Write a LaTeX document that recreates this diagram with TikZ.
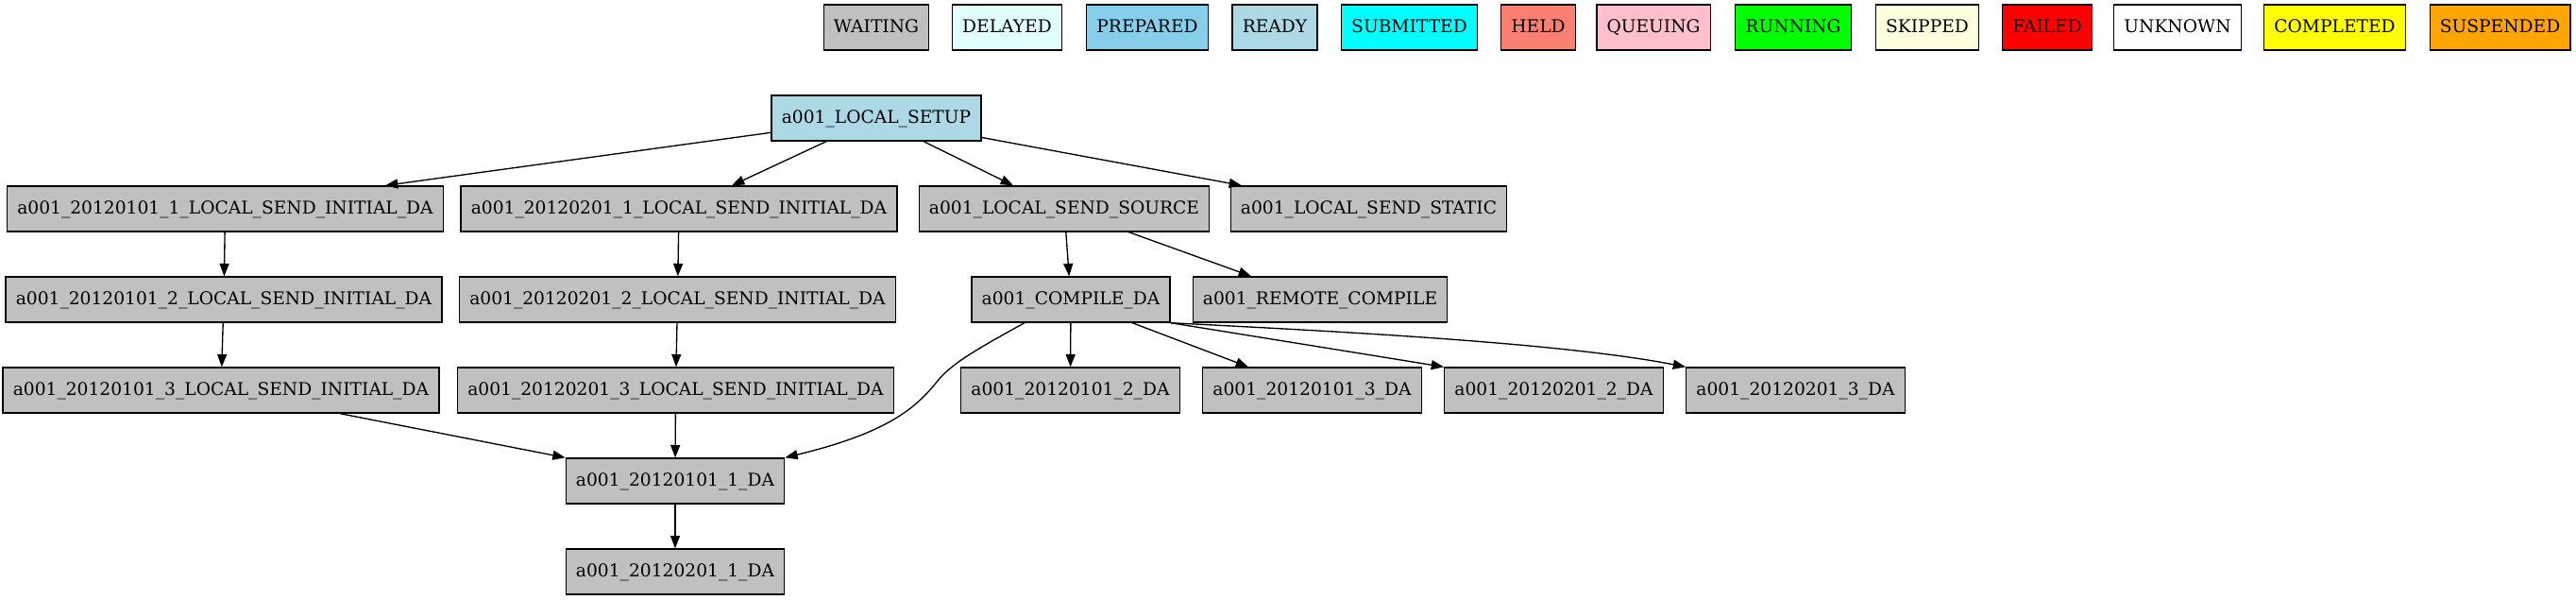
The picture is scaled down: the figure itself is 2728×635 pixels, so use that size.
\documentclass[tikz,border=0pt]{standalone}
\usepackage{fontspec}
\setmainfont{DejaVu Serif}
\usetikzlibrary{arrows.meta}
\definecolor{cwait}{HTML}{C0C0C0}
\definecolor{cdelay}{HTML}{E0FFFF}
\definecolor{cprep}{HTML}{87CEEB}
\definecolor{cready}{HTML}{ADD8E6}
\definecolor{csub}{HTML}{00FFFF}
\definecolor{cheld}{HTML}{FA8072}
\definecolor{cqueue}{HTML}{FFC0CB}
\definecolor{crun}{HTML}{00FF00}
\definecolor{cskip}{HTML}{FFFFE0}
\definecolor{cfail}{HTML}{FF0000}
\definecolor{cunk}{HTML}{FFFFFF}
\definecolor{ccomp}{HTML}{FFFF00}
\definecolor{csusp}{HTML}{FFA500}
\tikzset{
  gbox/.style={draw=black, line width=1pt, fill=cwait, minimum height=36pt,
    minimum width=54pt, inner xsep=8pt, inner ysep=0pt, text height=8.6pt,
    text depth=0pt, font=\fontsize{14}{16}\selectfont},
  gedge/.style={draw=black, line width=1pt, -{Triangle[length=10pt,width=7.5pt]}}
}
\begin{document}
\begin{tikzpicture}[x=0.75pt,y=-0.75pt]
\useasboundingbox (0,0) rectangle (2728,635);
% legend
\node[gbox,fill=cwait]  (lwait)  at (928,29)    {WAITING};
\node[gbox,fill=cdelay] (ldelay) at (1066.5,29) {DELAYED};
\node[gbox,fill=cprep]  (lprep)  at (1215,29)   {PREPARED};
\node[gbox,fill=cready] (lready) at (1350,29)   {READY};
\node[gbox,fill=csub]   (lsub)   at (1492.5,29) {SUBMITTED};
\node[gbox,fill=cheld]  (lheld)  at (1629,29)   {HELD};
\node[gbox,fill=cqueue] (lqueue) at (1751,29)   {QUEUING};
\node[gbox,fill=crun]   (lrun)   at (1899,29)   {RUNNING};
\node[gbox,fill=cskip]  (lskip)  at (2041,29)   {SKIPPED};
\node[gbox,fill=cfail]  (lfail)  at (2168,29)   {FAILED};
\node[gbox,fill=cunk]   (lunk)   at (2306,29)   {UNKNOWN};
\node[gbox,fill=ccomp]  (lcomp)  at (2472.5,29) {COMPLETED};
\node[gbox,fill=csusp]  (lsusp)  at (2647.5,29) {SUSPENDED};
% graph nodes
\node[gbox,fill=cready] (setup) at (928,125) {a001\_LOCAL\_SETUP};
\node[gbox] (t11) at (238.5,221) {a001\_20120101\_1\_LOCAL\_SEND\_INITIAL\_DA};
\node[gbox] (t21) at (719,221) {a001\_20120201\_1\_LOCAL\_SEND\_INITIAL\_DA};
\node[gbox] (src) at (1127,221) {a001\_LOCAL\_SEND\_SOURCE};
\node[gbox] (static) at (1449.5,221) {a001\_LOCAL\_SEND\_STATIC};
\node[gbox] (t12) at (237,317) {a001\_20120101\_2\_LOCAL\_SEND\_INITIAL\_DA};
\node[gbox] (t22) at (717.5,317) {a001\_20120201\_2\_LOCAL\_SEND\_INITIAL\_DA};
\node[gbox] (comp) at (1134,317) {a001\_COMPILE\_DA};
\node[gbox] (remote) at (1398,317) {a001\_REMOTE\_COMPILE};
\node[gbox] (t13) at (234,413) {a001\_20120101\_3\_LOCAL\_SEND\_INITIAL\_DA};
\node[gbox] (t23) at (715.5,413) {a001\_20120201\_3\_LOCAL\_SEND\_INITIAL\_DA};
\node[gbox] (d12) at (1133.5,413) {a001\_20120101\_2\_DA};
\node[gbox] (d13) at (1389.5,413) {a001\_20120101\_3\_DA};
\node[gbox] (d22) at (1645.5,413) {a001\_20120201\_2\_DA};
\node[gbox] (d23) at (1901.5,413) {a001\_20120201\_3\_DA};
\node[gbox] (d11) at (715,509) {a001\_20120101\_1\_DA};
\node[gbox] (d21) at (715,605) {a001\_20120201\_1\_DA};
% edges
\draw[gedge] (setup) -- ([xshift=169.5*0.75pt]t11.north);
\draw[gedge] (setup) -- ([xshift=56*0.75pt]t21.north);
\draw[gedge] (setup) -- ([xshift=-54*0.75pt]src.north);
\draw[gedge] (setup) -- ([xshift=-134.5*0.75pt]static.north);
\draw[gedge] (t11) -- (t12);
\draw[gedge] (t21) -- (t22);
\draw[gedge] (t12) -- (t13);
\draw[gedge] (t22) -- (t23);
\draw[gedge] (src) -- (comp);
\draw[gedge] (src) -- ([xshift=-73*0.75pt]remote.north);
\draw[gedge] (comp) -- (d12);
\draw[gedge] (comp) -- ([xshift=-67.5*0.75pt]d13.north);
\draw[gedge] (comp.south east) -- (d22.north west);
\draw[gedge] (comp.south east) .. controls (1400,350) and (1650,362) .. (d23.north west);
\draw[gedge] ([xshift=-49*0.75pt]comp.south) .. controls (1030,372) and (1008,385) .. (993,403)
   .. controls (970,432) and (940,458) .. (d11.north east);
\draw[gedge] (t13) -- (d11.north west);
\draw[gedge] (t23) -- (d11);
\draw[gedge] (d11) -- (d21);
\end{tikzpicture}
\end{document}
